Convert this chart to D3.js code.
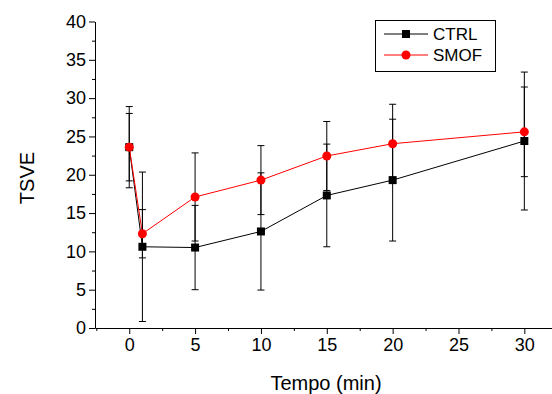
<!DOCTYPE html>
<html>
<head>
<meta charset="utf-8">
<script src="https://cdn.jsdelivr.net/npm/d3@7"></script>
<style>
  body { margin: 0; background: #fff; }
  svg { display: block; font-family: "Liberation Sans", Arial, sans-serif; }
</style>
</head>
<body>
<div id="chart"></div>
<script>
// values
const time = [0, 1, 5, 10, 15, 20, 30];
const ctrl = [23.6, 10.6, 10.5, 12.6, 17.3, 19.3, 24.4];
const ctrlSD = [5.3, 9.75, 5.5, 7.65, 6.7, 7.95, 9.0];
const smof = [23.6, 12.3, 17.1, 19.3, 22.45, 24.05, 25.6];
const smofSD = [4.4, 3.15, 5.75, 4.5, 4.5, 5.15, 5.85];
const xTicks = [0, 5, 10, 15, 20, 25, 30];
const yTicks = [0, 5, 10, 15, 20, 25, 30, 35, 40];

const width = 552, height = 394;
const plotLeft = 95, plotRight = 552, plotTop = 21.5, plotBottom = 328;

const svg = d3.select("#chart").append("svg")
  .attr("width", width)
  .attr("height", height);

const x = d3.scaleLinear().domain([-2.6, 32.1]).range([plotLeft, plotRight]);
const y = d3.scaleLinear().domain([0, 40]).range([plotBottom, plotTop]);

// axes
svg.append("g")
  .attr("transform", `translate(0,${plotBottom})`)
  .call(d3.axisBottom(x).tickValues(xTicks).tickSize(6).tickPadding(4).tickSizeOuter(0));
svg.append("g")
  .attr("transform", `translate(0,${plotBottom})`)
  .call(d3.axisBottom(x).tickValues(d3.range(-2.5, 32, 5)).tickSize(3).tickFormat("").tickSizeOuter(0))
  .select(".domain").remove();

svg.append("g")
  .attr("transform", `translate(${plotLeft},0)`)
  .call(d3.axisLeft(y).tickValues(yTicks).tickSize(6).tickPadding(3).tickSizeOuter(0));
svg.append("g")
  .attr("transform", `translate(${plotLeft},0)`)
  .call(d3.axisLeft(y).tickValues(d3.range(2.5, 40, 5)).tickSize(3).tickFormat("").tickSizeOuter(0))
  .select(".domain").remove();

svg.selectAll(".tick text").attr("font-size", 18).attr("fill", "#000").attr("font-family", "Liberation Sans, Arial, sans-serif");
svg.selectAll(".domain, .tick line").attr("stroke", "#000");

// axis titles
svg.append("text")
  .attr("x", 326).attr("y", 390)
  .attr("text-anchor", "middle")
  .attr("font-size", 20)
  .text("Tempo (min)");

svg.append("text")
  .attr("transform", "translate(34,178) rotate(-90)")
  .attr("text-anchor", "middle")
  .attr("font-size", 20)
  .text("TSVE");

const series = [
  { name: "CTRL", v: ctrl, sd: ctrlSD, color: "#000", marker: "square" },
  { name: "SMOF", v: smof, sd: smofSD, color: "#ff0000", marker: "circle" }
];

const line = d3.line().x((d, i) => x(time[i])).y(d => y(d));

// lines
series.forEach(s => {
  svg.append("path")
    .datum(s.v)
    .attr("fill", "none")
    .attr("stroke", s.color)
    .attr("stroke-width", 1)
    .attr("d", line);
});

// error bars
series.forEach(s => {
  const g = svg.append("g").attr("stroke", "#000").attr("stroke-width", 1);
  s.v.forEach((v, i) => {
    const cx = x(time[i]);
    const hi = y(v + s.sd[i]), lo = y(v - s.sd[i]);
    g.append("line").attr("x1", cx).attr("x2", cx).attr("y1", hi).attr("y2", lo);
    g.append("line").attr("x1", cx - 3.5).attr("x2", cx + 3.5).attr("y1", hi).attr("y2", hi);
    g.append("line").attr("x1", cx - 3.5).attr("x2", cx + 3.5).attr("y1", lo).attr("y2", lo);
  });
});

// markers
function drawMarker(g, type, cx, cy, color) {
  if (type === "square") {
    g.append("rect").attr("x", cx - 4).attr("y", cy - 4).attr("width", 8).attr("height", 8).attr("fill", color);
  } else {
    g.append("circle").attr("cx", cx).attr("cy", cy).attr("r", 4.5).attr("fill", color);
  }
}
series.forEach(s => {
  const g = svg.append("g");
  s.v.forEach((v, i) => drawMarker(g, s.marker, x(time[i]), y(v), s.color));
});

// legend
const legend = svg.append("g");
legend.append("rect")
  .attr("x", 375.5).attr("y", 20.5).attr("width", 120).attr("height", 51)
  .attr("fill", "#fff").attr("stroke", "#000").attr("stroke-width", 1);
series.forEach((s, i) => {
  const ly = 34 + i * 21;
  legend.append("line").attr("x1", 384).attr("x2", 428).attr("y1", ly).attr("y2", ly)
    .attr("stroke", s.color).attr("stroke-width", 1);
  drawMarker(legend, s.marker, 406, ly, s.color);
  legend.append("text").attr("x", 433).attr("y", ly + 6)
    .attr("font-size", 17).text(s.name);
});
</script>
</body>
</html>
